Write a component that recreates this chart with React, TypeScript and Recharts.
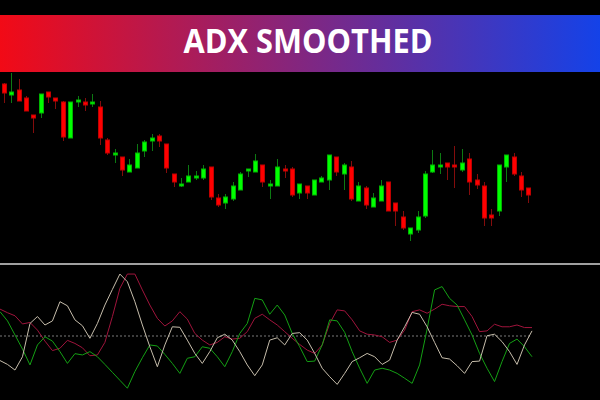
import { ComposedChart, Bar, Line, XAxis, YAxis, ReferenceLine } from 'recharts';

// price candles (upper panel)
const opens = [
  1.0966, 1.0955, 1.0960, 1.0952, 1.0935, 1.0937, 1.0958, 1.0952, 1.0948, 1.0912, 1.0949, 1.0948,
  1.0947, 1.0943, 1.0910, 1.0896, 1.0893, 1.0878, 1.0882, 1.0899, 1.0909, 1.0914, 1.0906, 1.0876,
  1.0865, 1.0868, 1.0872, 1.0872, 1.0883, 1.0852, 1.0847, 1.0851, 1.0860, 1.0879, 1.0878, 1.0885,
  1.0865, 1.0864, 1.0881, 1.0881, 1.0857, 1.0864, 1.0855, 1.0868, 1.0870, 1.0893, 1.0876, 1.0883,
  1.0849, 1.0862, 1.0843, 1.0849, 1.0868, 1.0847, 1.0833, 1.0816, 1.0820, 1.0834, 1.0878, 1.0883,
  1.0887, 1.0885, 1.0880, 1.0891, 1.0870, 1.0864, 1.0835, 1.0839, 1.0883, 1.0893, 1.0874, 1.0862,
];
const highs = [
  1.0967, 1.0977, 1.0971, 1.0954, 1.0935, 1.0956, 1.0958, 1.0952, 1.0949, 1.0948, 1.0954, 1.0952,
  1.0956, 1.0949, 1.0912, 1.0901, 1.0893, 1.0891, 1.0906, 1.0910, 1.0916, 1.0916, 1.0906, 1.0876,
  1.0872, 1.0885, 1.0879, 1.0885, 1.0883, 1.0856, 1.0856, 1.0868, 1.0878, 1.0881, 1.0896, 1.0885,
  1.0870, 1.0891, 1.0885, 1.0883, 1.0866, 1.0864, 1.0870, 1.0874, 1.0895, 1.0893, 1.0887, 1.0889,
  1.0868, 1.0864, 1.0857, 1.0870, 1.0868, 1.0847, 1.0839, 1.0822, 1.0839, 1.0879, 1.0900, 1.0897,
  1.0887, 1.0904, 1.0901, 1.0897, 1.0876, 1.0868, 1.0841, 1.0885, 1.0895, 1.0897, 1.0878, 1.0862,
];
const lows = [
  1.0947, 1.0947, 1.0949, 1.0939, 1.0917, 1.0932, 1.0947, 1.0941, 1.0909, 1.0912, 1.0943, 1.0939,
  1.0943, 1.0905, 1.0895, 1.0887, 1.0874, 1.0878, 1.0882, 1.0893, 1.0899, 1.0903, 1.0877, 1.0863,
  1.0863, 1.0868, 1.0870, 1.0870, 1.0850, 1.0843, 1.0841, 1.0849, 1.0860, 1.0873, 1.0878, 1.0863,
  1.0851, 1.0864, 1.0872, 1.0853, 1.0851, 1.0851, 1.0855, 1.0868, 1.0860, 1.0874, 1.0860, 1.0849,
  1.0849, 1.0841, 1.0843, 1.0849, 1.0839, 1.0824, 1.0820, 1.0809, 1.0817, 1.0832, 1.0877, 1.0876,
  1.0870, 1.0862, 1.0878, 1.0855, 1.0861, 1.0824, 1.0824, 1.0834, 1.0868, 1.0874, 1.0853, 1.0847,
];
const closes = [
  1.0957, 1.0958, 1.0949, 1.0939, 1.0932, 1.0956, 1.0953, 1.0949, 1.0913, 1.0948, 1.0950, 1.0945,
  1.0948, 1.0912, 1.0897, 1.0897, 1.0880, 1.0885, 1.0897, 1.0908, 1.0912, 1.0909, 1.0882, 1.0868,
  1.0866, 1.0874, 1.0874, 1.0881, 1.0853, 1.0845, 1.0853, 1.0864, 1.0876, 1.0881, 1.0889, 1.0868,
  1.0866, 1.0883, 1.0879, 1.0855, 1.0866, 1.0857, 1.0870, 1.0872, 1.0895, 1.0878, 1.0885, 1.0851,
  1.0864, 1.0845, 1.0852, 1.0864, 1.0839, 1.0839, 1.0822, 1.0822, 1.0833, 1.0876, 1.0885, 1.0885,
  1.0883, 1.0883, 1.0887, 1.0868, 1.0865, 1.0832, 1.0832, 1.0885, 1.0895, 1.0876, 1.0860, 1.0855,
];

// indicator panel (lower)
const adxLine = [
  15.4, 13.9, 11.7, 16.9, 29.9, 32.6, 29.3, 30.9, 38.4, 36.8, 31.3, 29.0, 24.1, 29.9, 37.1, 43.2,
  49.2, 46.2, 38.4, 29.3, 20.8, 13.0, 21.5, 28.6, 28.4, 23.4, 18.2, 14.3, 18.9, 24.3, 25.7, 23.4,
  18.9, 13.7, 9.5, 13.7, 23.4, 24.3, 21.5, 26.0, 26.3, 23.4, 18.2, 12.4, 9.1, 6.1, 10.4, 15.0,
  16.5, 18.2, 16.9, 13.9, 15.6, 23.4, 28.6, 34.2, 33.5, 28.6, 22.5, 16.5, 16.0, 13.4, 10.4, 15.0,
  15.2, 25.1, 25.7, 22.8, 18.9, 13.9, 21.5, 27.0,
];
const plusDI = [
  34.5, 30.9, 25.4, 19.9, 13.7, 21.5, 24.7, 23.0, 18.9, 14.3, 18.1, 17.6, 18.9, 16.9, 13.9, 10.8,
  7.7, 4.6, 11.1, 16.5, 21.5, 21.1, 17.8, 14.3, 10.4, 16.3, 16.9, 20.8, 20.2, 16.9, 13.0, 18.9,
  26.0, 29.9, 39.7, 39.1, 33.5, 37.1, 33.2, 26.0, 20.8, 15.0, 15.2, 21.5, 31.3, 30.9, 26.4, 18.9,
  12.4, 6.5, 11.7, 12.4, 11.7, 10.4, 8.5, 6.5, 13.7, 27.7, 43.0, 44.3, 39.7, 37.1, 31.3, 25.4,
  18.2, 12.4, 7.2, 15.0, 22.1, 23.8, 20.8, 16.9,
];
const minusDI = [
  35.5, 34.1, 32.9, 29.7, 30.3, 27.3, 23.0, 19.3, 20.2, 23.3, 22.1, 20.4, 17.3, 17.6, 22.5, 32.6,
  43.6, 49.2, 49.2, 43.0, 37.1, 31.9, 28.9, 30.9, 34.5, 31.6, 26.0, 23.4, 21.5, 22.5, 24.7, 23.8,
  24.1, 26.7, 31.9, 33.5, 31.3, 29.3, 26.7, 24.1, 21.7, 19.5, 18.2, 21.5, 29.9, 35.2, 34.8, 31.3,
  27.0, 25.7, 25.4, 24.7, 22.5, 23.4, 27.3, 34.5, 35.2, 33.9, 35.5, 37.4, 36.8, 36.5, 36.5, 32.6,
  26.7, 27.0, 29.6, 28.6, 28.6, 29.3, 28.3, 28.3,
];
const LEVEL = 25;

const candles = opens.map((o, i) => ({
  i,
  o,
  h: highs[i],
  l: lows[i],
  c: closes[i],
  range: [lows[i], highs[i]],
}));

const indicator = adxLine.map((v, i) => ({
  i,
  adx: v,
  plus: plusDI[i],
  minus: minusDI[i],
}));

const Candle = (props: any) => {
  const { x, y, width, height, payload } = props;
  if (!payload) return null;
  const { o, h, l, c } = payload;
  const top = Math.min(y, y + height);
  const span = Math.abs(height);
  const px = (v: number) => (h === l ? top : top + ((h - v) / (h - l)) * span);
  const cx = Math.round(x + width / 2);
  const up = c >= o;
  const bTop = px(Math.max(o, c));
  const bBot = px(Math.min(o, c));
  const bh = Math.max(bBot - bTop, 2);
  return (
    <g>
      <line
        x1={cx + 0.5}
        x2={cx + 0.5}
        y1={top}
        y2={top + span}
        stroke={up ? '#0c7a12' : '#840c0c'}
        strokeWidth={1}
      />
      <rect
        x={cx - 1.5}
        y={bTop}
        width={4}
        height={bh}
        fill={up ? '#00ff00' : '#ff0000'}
        stroke={up ? '#00b400' : '#c00000'}
        strokeWidth={1}
      />
    </g>
  );
};

export default function App() {
  return (
    <div
      style={{
        position: 'fixed',
        left: 0,
        top: 0,
        width: 600,
        height: 400,
        background: '#000',
        overflow: 'hidden',
      }}
    >
      <div style={{ position: 'absolute', left: 0, top: 0 }}>
        <ComposedChart
          width={600}
          height={260}
          data={candles}
          margin={{ top: 70, right: 68, bottom: 10, left: 0 }}
        >
          <XAxis dataKey="i" type="category" hide />
          <YAxis type="number" domain={[1.08, 1.098]} allowDataOverflow hide />
          <Bar dataKey="range" shape={<Candle />} isAnimationActive={false} />
        </ComposedChart>
      </div>

      <div
        style={{
          position: 'absolute',
          left: 0,
          top: 15,
          width: 600,
          height: 57,
          background: 'linear-gradient(to right, #f20a16, #1442e8)',
        }}
      >
        <svg width={600} height={57} style={{ display: 'block' }}>
          <text
            x={308}
            y={38}
            textAnchor="middle"
            fill="#fff"
            fontFamily="'Open Sans', sans-serif"
            fontWeight={700}
            fontSize={34}
            textLength={249}
            lengthAdjust="spacingAndGlyphs"
          >
            ADX SMOOTHED
          </text>
        </svg>
      </div>

      <div
        style={{
          position: 'absolute',
          left: 0,
          top: 263,
          width: 600,
          height: 2,
          background: '#a0a0a0',
        }}
      />

      <div style={{ position: 'absolute', left: 0, top: 272 }}>
        <ComposedChart
          width={600}
          height={128}
          data={indicator}
          margin={{ top: 0, right: 68, bottom: 0, left: 0 }}
        >
          <XAxis dataKey="i" type="category" hide />
          <YAxis type="number" domain={[0, 50]} allowDataOverflow hide />
          <ReferenceLine y={LEVEL} stroke="#7a7a7a" strokeDasharray="2 2" />
          <Line type="linear" dataKey="minus" stroke="#a0143c" strokeWidth={1} dot={false} isAnimationActive={false} />
          <Line type="linear" dataKey="plus" stroke="#14a014" strokeWidth={1} dot={false} isAnimationActive={false} />
          <Line type="linear" dataKey="adx" stroke="#c6bdab" strokeWidth={1} dot={false} isAnimationActive={false} />
        </ComposedChart>
      </div>
    </div>
  );
}
